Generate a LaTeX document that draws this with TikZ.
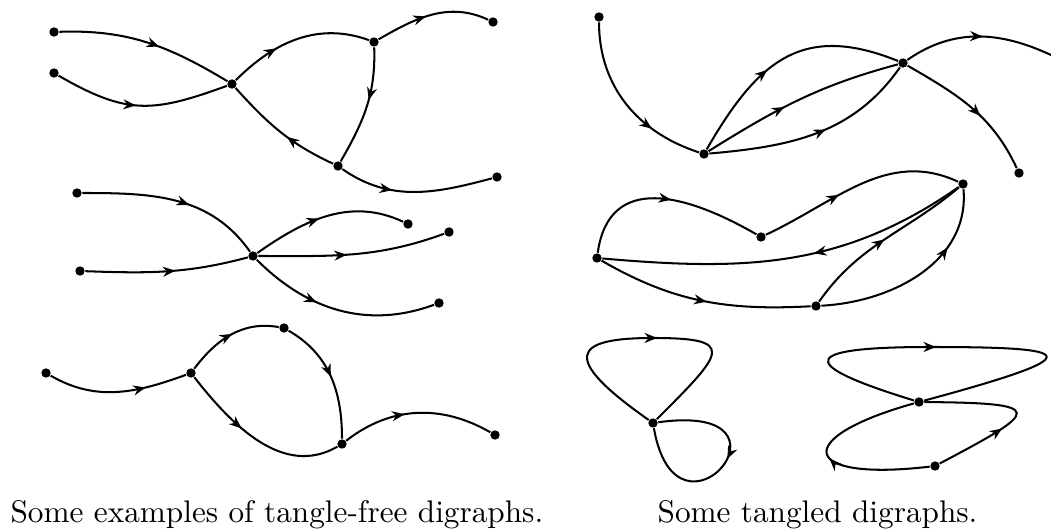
\documentclass[tikz,border=0pt]{standalone}
\usetikzlibrary{arrows.meta,decorations.markings}
\begin{document}
\begin{tikzpicture}[x=0.32pt,y=0.32pt,
  dot/.style={circle,fill=black,inner sep=0pt,minimum size=3pt},
  edge/.style={line width=0.65pt},
  midarr/.style={postaction={decorate,decoration={markings,
    mark=at position #1 with {\arrow{Stealth[length=4pt,width=3.2pt,inset=1.3pt]}}}}},
  captext/.style={anchor=base west,inner sep=0pt}]
\useasboundingbox (0,0) rectangle (1051,-529);
% ---------- graph 1 ----------
\node[dot] (a1) at (54,-32) {};
\node[dot] (a2) at (54,-73) {};
\node[dot] (c) at (232,-84) {};
\node[dot] (u) at (374,-42) {};
\node[dot] (e1) at (493,-22) {};
\node[dot] (l) at (338,-166) {};
\node[dot] (e2) at (497,-177) {};
\draw[edge,midarr=0.57] (a1) to[out=2,in=149] (c);
\draw[edge,midarr=0.47] (a2) to[out=-30,in=200,looseness=1.2] (c);
\draw[edge,midarr=0.35] (c) to[out=45,in=160] (u);
\draw[edge,midarr=0.45] (u) to[out=30,in=155] (e1);
\draw[edge,midarr=0.44] (u) to[out=-88,in=60] (l);
\draw[edge,midarr=0.43] (l) to[out=155,in=-48] (c);
\draw[edge,midarr=0.35] (l) to[out=-35,in=195] (e2);
% ---------- graph 2 ----------
\node[dot] (b1) at (77,-193) {};
\node[dot] (b2) at (80,-271) {};
\node[dot] (bc) at (253,-256) {};
\node[dot] (f1) at (408,-224) {};
\node[dot] (f2) at (449,-232) {};
\node[dot] (f3) at (439,-303) {};
\draw[edge,midarr=0.58] (b1) to[out=0,in=125] (bc);
\draw[edge,midarr=0.55] (b2) to[out=-2,in=195] (bc);
\draw[edge,midarr=0.45] (bc) to[out=35,in=155] (f1);
\draw[edge,midarr=0.47] (bc) to[out=0,in=200] (f2);
\draw[edge,midarr=0.38] (bc) to[out=-45,in=200] (f3);
% ---------- graph 3 ----------
\node[dot] (d1) at (46,-373) {};
\node[dot] (dc) at (191,-373) {};
\node[dot] (dt) at (284,-328) {};
\node[dot] (db) at (342,-444) {};
\node[dot] (de) at (495,-435) {};
\draw[edge,midarr=0.7] (d1) to[out=-30,in=200] (dc);
\draw[edge,midarr=0.52] (dc) to[out=53,in=170] (dt);
\draw[edge,midarr=0.5] (dt) to[out=-30,in=90] (db);
\draw[edge,midarr=0.4] (dc) to[out=-52,in=210] (db);
\draw[edge,midarr=0.42] (db) to[out=38,in=150] (de);
% ---------- graph 4 ----------
\node[dot] (g1) at (599,-17) {};
\node[dot] (g2) at (704,-154) {};
\node[dot] (g3) at (903,-63) {};
\node[dot] (g4) at (1019,-173) {};
\coordinate (g5) at (1051,-55);
\draw[edge,midarr=0.7] (g1) to[out=-90,in=162] (g2);
\draw[edge,midarr=0.42] (g2) to[out=60,in=158,looseness=1.25] (g3);
\draw[edge,midarr=0.42] (g2) to[out=32,in=195] (g3);
\draw[edge,midarr=0.55] (g2) to[out=5,in=235] (g3);
\draw[edge,midarr=0.58] (g3) to[out=-30,in=115] (g4);
\draw[edge,midarr=0.53] (g3) to[out=35,in=155] (g5);
% ---------- graph 5 ----------
\node[dot] (h1) at (597,-258) {};
\node[dot] (h2) at (761,-237) {};
\node[dot] (h3) at (963,-184) {};
\node[dot] (h4) at (816,-306) {};
\draw[edge,midarr=0.53] (h1) to[out=82,in=150,looseness=1.3] (h2);
\draw[edge,midarr=0.4] (h2) to[out=25,in=155] (h3);
\draw[edge,midarr=0.43] (h3) to[out=215,in=-5] (h1);
\draw[edge,midarr=0.52] (h1) to[out=-30,in=183] (h4);
\draw[edge,midarr=0.5] (h4) to[out=55,in=220] (h3);
\draw[edge,midarr=0.7] (h4) to[out=3,in=-85] (h3);
% ---------- graph 6 ----------
\node[dot] (k) at (653,-423) {};
\draw[edge,midarr=0.53] (k) .. controls (559,-357) and (573,-338) .. (653,-338)
  .. controls (738,-338) and (724,-352) .. (k);
\draw[edge,midarr=0.46] (k) .. controls (811,-401) and (677,-561) .. (k);
% ---------- graph 7 ----------
\node[dot] (m) at (919,-402) {};
\node[dot] (m2) at (935,-466) {};
\draw[edge,midarr=0.46] (m) .. controls (785,-361) and (810,-347) .. (930,-347)
  .. controls (1080,-347) and (1093,-355) .. (m);
\draw[edge,midarr=0.38] (m2) .. controls (1041,-410) and (1049,-403) .. (m);
\draw[edge,midarr=0.48] (m2) .. controls (800,-482) and (790,-438) .. (m);
% ---------- captions ----------
\node[captext] (cap1) at (10,-522) {Some examples of tangle-free digraphs.};
\node[captext] (cap2) at (657,-522) {Some tangled digraphs.};
\end{tikzpicture}
\end{document}
